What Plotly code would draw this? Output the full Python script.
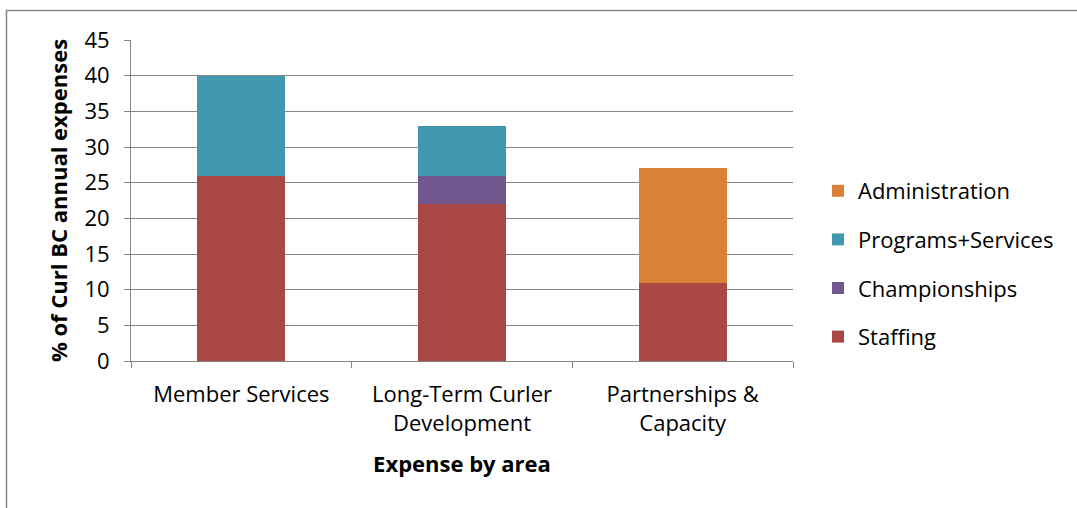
import plotly.graph_objects as go

categories = ["Member Services", "Long-Term Curler<br>Development", "Partnerships &<br>Capacity"]
staffing = [26, 22, 11]
championships = [0, 4, 0]
programs_services = [14, 7, 0]
administration = [0, 0, 16]
y_ticks = [0, 5, 10, 15, 20, 25, 30, 35, 40, 45]

series = [
    ("Staffing", staffing, "#A94744", 4),
    ("Championships", championships, "#72578E", 3),
    ("Programs+Services", programs_services, "#4198AF", 2),
    ("Administration", administration, "#DA8137", 1),
]

FONT = "'Open Sans', sans-serif"
FS = 22

fig = go.Figure()
for name, vals, col, rank in series:
    fig.add_trace(go.Bar(
        name=name, x=categories, y=vals, marker_color=col,
        marker_line_width=0, legendgroup=name, legendrank=rank,
    ))

W, H = 1077, 508
L, R, T, B = 131, 1077 - 793, 40, 508 - 361
pw, ph = W - L - R, H - T - B

def px_x(x):
    return (x - L) / pw

def px_y(y):
    return 1 - (y - T) / ph

fig.update_layout(
    width=W, height=H,
    margin=dict(l=L, r=R, t=T, b=B, autoexpand=False),
    barmode="stack", bargap=0.6,
    paper_bgcolor="white", plot_bgcolor="white",
    font=dict(family=FONT, size=FS, color="black"),
    showlegend=True,
    legend=dict(
        x=px_x(818), y=px_y(170), xanchor="left", yanchor="top",
        traceorder="grouped", tracegroupgap=17,
        font=dict(size=FS, family=FONT),
        bgcolor="rgba(0,0,0,0)",
    ),
    xaxis=dict(
        showline=True, linecolor="#868686", linewidth=1,
        ticks="outside", tickson="boundaries", ticklen=6, tickcolor="#868686",
        tickfont=dict(size=FS, family=FONT), ticklabelstandoff=14,
        title=dict(text="<b>Expense by area</b>", font=dict(size=FS, family=FONT), standoff=20),
    ),
    yaxis=dict(
        range=[0, 45], tickvals=y_ticks,
        showgrid=True, gridcolor="#868686", gridwidth=1,
        showline=True, linecolor="#868686", linewidth=1,
        ticks="outside", ticklen=6, tickcolor="#868686",
        tickfont=dict(size=FS, family=FONT), ticklabelstandoff=10,
        zeroline=False,
        title=dict(text="<b>% of Curl BC annual expenses</b>", font=dict(size=FS, family=FONT), standoff=10),
    ),
    shapes=[dict(
        type="rect", xref="paper", yref="paper",
        x0=px_x(6.5), y0=px_y(530), x1=px_x(1100), y1=px_y(10.5),
        line=dict(color="#868686", width=1.5), fillcolor="rgba(0,0,0,0)", layer="below",
    )],
)

fig.write_html("out.html")
